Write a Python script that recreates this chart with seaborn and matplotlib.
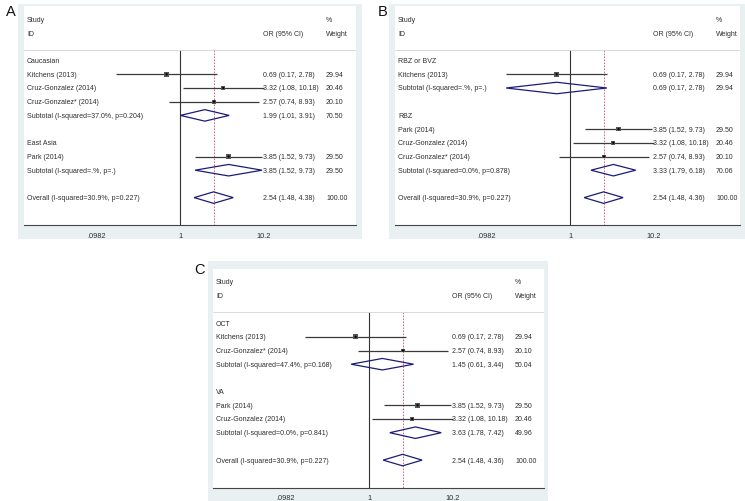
import numpy as np
import pandas as pd
import matplotlib
matplotlib.use("Agg")
import matplotlib.pyplot as plt
from matplotlib.patches import Rectangle, Polygon
import seaborn as sns

sns.set_theme(style="white")
plt.rcParams['font.family'] = ['Liberation Sans', 'DejaVu Sans']

# ---------------- data ----------------
# Panel A
A_groups = ["Caucasian", "East Asia"]
A_studies = ["Kitchens (2013)", "Cruz-Gonzalez (2014)", "Cruz-Gonzalez* (2014)", "Park (2014)"]
A_study_group = [0, 0, 0, 1]
A_or = [0.69, 3.32, 2.57, 3.85]
A_lo = [0.17, 1.08, 0.74, 1.52]
A_hi = [2.78, 10.18, 8.93, 9.73]
A_w = [29.94, 20.46, 20.10, 29.50]
A_sub_labels = ["Subtotal (I-squared=37.0%, p=0.204)", "Subtotal (I-squared=.%, p=.)"]
A_sub_or = [1.99, 3.85]
A_sub_lo = [1.01, 1.52]
A_sub_hi = [3.91, 9.73]
A_sub_w = [70.50, 29.50]
A_overall = [2.54, 1.48, 4.38, 100.00]

# Panel B
B_groups = ["RBZ or BVZ", "RBZ"]
B_studies = ["Kitchens (2013)", "Park (2014)", "Cruz-Gonzalez (2014)", "Cruz-Gonzalez* (2014)"]
B_study_group = [0, 1, 1, 1]
B_or = [0.69, 3.85, 3.32, 2.57]
B_lo = [0.17, 1.52, 1.08, 0.74]
B_hi = [2.78, 9.73, 10.18, 8.93]
B_w = [29.94, 29.50, 20.46, 20.10]
B_sub_labels = ["Subtotal (I-squared=.%, p=.)", "Subtotal (I-squared=0.0%, p=0.878)"]
B_sub_or = [0.69, 3.33]
B_sub_lo = [0.17, 1.79]
B_sub_hi = [2.78, 6.18]
B_sub_w = [29.94, 70.06]
B_overall = [2.54, 1.48, 4.36, 100.00]

# Panel C
C_groups = ["OCT", "VA"]
C_studies = ["Kitchens (2013)", "Cruz-Gonzalez* (2014)", "Park (2014)", "Cruz-Gonzalez (2014)"]
C_study_group = [0, 0, 1, 1]
C_or = [0.69, 2.57, 3.85, 3.32]
C_lo = [0.17, 0.74, 1.52, 1.08]
C_hi = [2.78, 8.93, 9.73, 10.18]
C_w = [29.94, 20.10, 29.50, 20.46]
C_sub_labels = ["Subtotal (I-squared=47.4%, p=0.168)", "Subtotal (I-squared=0.0%, p=0.841)"]
C_sub_or = [1.45, 3.63]
C_sub_lo = [0.61, 1.78]
C_sub_hi = [3.44, 7.42]
C_sub_w = [50.04, 49.96]
C_overall = [2.54, 1.48, 4.36, 100.00]

overall_label = "Overall (I-squared=30.9%, p=0.227)"
tick_values = [0.0982, 1, 10.2]
tick_labels = [".0982", "1", "10.2"]

# ---------------- layout ----------------
W, H = 745, 502
fig = plt.figure(figsize=(W / 100, H / 100), dpi=100)

BG = "#e8f0f2"
TXT = "#2e2e2e"
FS = 5.0
PX_DEC = 83.0
ROW = 13.7


def fig_rect(x0, y0, x1, y1):
    return [x0 / W, 1 - y1 / H, (x1 - x0) / W, (y1 - y0) / H]


def draw_panel(letter, outer, study_y, white_x0, white_x1, one_px, letter_xy,
               groups, studies, sgroup, o, lo, hi, w,
               sub_labels, sub_o, sub_lo, sub_hi, sub_w, overall):
    # outer light background
    ox0, oy0, ox1, oy1 = outer
    r = fig_rect(ox0, oy0, ox1, oy1)
    fig.patches.append(Rectangle((r[0], r[1]), r[2], r[3], transform=fig.transFigure,
                                 facecolor=BG, edgecolor="none", zorder=-5))
    fig.text(letter_xy[0] / W, 1 - letter_xy[1] / H, letter, fontsize=10.5,
             ha="left", va="center", color="#111")

    top_px = study_y - 13.3
    bot_px = study_y + 15 * ROW
    ax = fig.add_axes(fig_rect(white_x0, top_px, white_x1, bot_px))
    ax.set_zorder(1)
    ax.set_facecolor("white")
    ax.set_xlim((white_x0 - one_px) / PX_DEC, (white_x1 - one_px) / PX_DEC)
    ax.set_ylim(15, -13.3 / ROW)
    for s in ["top", "left", "right"]:
        ax.spines[s].set_visible(False)
    ax.spines["bottom"].set_color("#444444")
    ax.spines["bottom"].set_linewidth(0.8)
    ax.set_yticks([])
    ax.set_xticks(np.log10(tick_values))
    ax.set_xticklabels(tick_labels, fontsize=5.3, color=TXT)
    ax.tick_params(axis="x", direction="out", length=3, width=0.6, color="#777777", pad=2)

    tr = ax.get_yaxis_transform()  # x in axes fraction, y in data
    lab_x = 3.0 / (white_x1 - white_x0)
    or_x = 1.0
    w_x = 1.76

    # header
    ax.text(lab_x, 0, "Study", transform=tr, fontsize=FS, color=TXT, va="center")
    ax.text(lab_x, 1, "ID", transform=tr, fontsize=FS, color=TXT, va="center")
    ax.text(w_x, 0, "%", fontsize=FS, color=TXT, va="center")
    ax.text(or_x, 1, "OR (95% CI)", fontsize=FS, color=TXT, va="center")
    ax.text(w_x, 1, "Weight", fontsize=FS, color=TXT, va="center")
    ax.axhline(2.2, color="#d4d4d4", lw=0.6)

    # rows
    rows_pts = []
    row = 3
    for g, gname in enumerate(groups):
        ax.text(lab_x, row, gname, transform=tr, fontsize=FS, color=TXT, va="center")
        row += 1
        for i, name in enumerate(studies):
            if sgroup[i] != g:
                continue
            ax.text(lab_x, row, name, transform=tr, fontsize=FS, color=TXT, va="center")
            ax.hlines(row, np.log10(lo[i]), np.log10(hi[i]), color="#3a3a3a", lw=0.9, zorder=2)
            ax.text(or_x, row, f"{o[i]:.2f} ({lo[i]:.2f}, {hi[i]:.2f})", fontsize=FS, color=TXT, va="center")
            ax.text(w_x, row, f"{w[i]:.2f}", fontsize=FS, color=TXT, va="center")
            rows_pts.append((row, np.log10(o[i]), w[i]))
            row += 1
        # subtotal
        ax.text(lab_x, row, sub_labels[g], transform=tr, fontsize=FS, color=TXT, va="center")
        d = [(np.log10(sub_lo[g]), row), (np.log10(sub_o[g]), row - 0.42),
             (np.log10(sub_hi[g]), row), (np.log10(sub_o[g]), row + 0.42)]
        ax.add_patch(Polygon(d, closed=True, fill=False, edgecolor="#1c1c78", lw=0.9, zorder=3))
        ax.text(or_x, row, f"{sub_o[g]:.2f} ({sub_lo[g]:.2f}, {sub_hi[g]:.2f})", fontsize=FS, color=TXT, va="center")
        ax.text(w_x, row, f"{sub_w[g]:.2f}", fontsize=FS, color=TXT, va="center")
        row += 2
    # overall
    ax.text(lab_x, row, overall_label, transform=tr, fontsize=FS, color=TXT, va="center")
    oo, olo, ohi, ow = overall
    d = [(np.log10(olo), row), (np.log10(oo), row - 0.42), (np.log10(ohi), row), (np.log10(oo), row + 0.42)]
    ax.add_patch(Polygon(d, closed=True, fill=False, edgecolor="#1c1c78", lw=0.9, zorder=3))
    ax.text(or_x, row, f"{oo:.2f} ({olo:.2f}, {ohi:.2f})", fontsize=FS, color=TXT, va="center")
    ax.text(w_x, row, f"{ow:.2f}", fontsize=FS, color=TXT, va="center")

    # reference lines
    ax.vlines(0, 2.2, 15, color="#333333", lw=0.8, zorder=1)
    ax.vlines(np.log10(oo), 2.2, 15, color="#c8507a", lw=0.6, linestyles=(0, (2, 1.6)), zorder=1)

    # study point estimates
    df = pd.DataFrame(rows_pts, columns=["row", "x", "w"])
    sns.scatterplot(data=df, x="x", y="row", size="w", sizes=(7, 11), size_norm=(20, 30),
                    marker="s", color="#555555", edgecolor="none", legend=False, ax=ax, zorder=4)
    sns.scatterplot(data=df, x="x", y="row", s=2.5, color="black", edgecolor="none",
                    legend=False, ax=ax, zorder=5)
    ax.set_xlabel("")
    ax.set_ylabel("")
    ax.set_xlim((white_x0 - one_px) / PX_DEC, (white_x1 - one_px) / PX_DEC)
    ax.set_ylim(15, -13.3 / ROW)


draw_panel("A", (18, 5, 362, 240), 20.5, 24, 356, 180, (6, 12),
           A_groups, A_studies, A_study_group, A_or, A_lo, A_hi, A_w,
           A_sub_labels, A_sub_or, A_sub_lo, A_sub_hi, A_sub_w, A_overall)
draw_panel("B", (389, 5, 745, 240), 20.5, 395, 740, 570, (378, 12),
           B_groups, B_studies, B_study_group, B_or, B_lo, B_hi, B_w,
           B_sub_labels, B_sub_or, B_sub_lo, B_sub_hi, B_sub_w, B_overall)
draw_panel("C", (208, 262, 548, 502), 283, 213, 544, 369, (194, 270),
           C_groups, C_studies, C_study_group, C_or, C_lo, C_hi, C_w,
           C_sub_labels, C_sub_or, C_sub_lo, C_sub_hi, C_sub_w, C_overall)

fig.savefig("out.png", dpi=100, facecolor="white")
